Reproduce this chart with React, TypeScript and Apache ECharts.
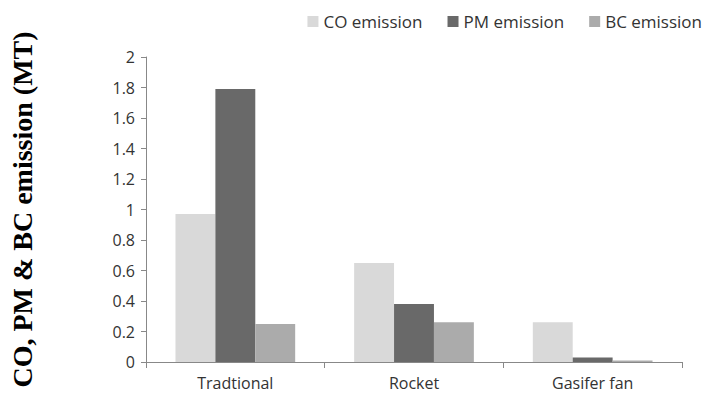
import React, { useEffect, useRef } from "react";
import * as echarts from "echarts";

const categories = ["Tradtional", "Rocket", "Gasifer fan"];
const seriesNames = ["CO emission", "PM emission", "BC emission"];
const coEmission = [0.97, 0.65, 0.26];
const pmEmission = [1.79, 0.38, 0.03];
const bcEmission = [0.25, 0.26, 0.01];

export default function App() {
  const ref = useRef<HTMLDivElement>(null);
  useEffect(() => {
    const chart = echarts.init(ref.current!, null, { renderer: "svg" });
    const font = "'Open Sans', 'Liberation Sans', sans-serif";
    const barCommon = { type: "bar", barGap: "0%", barCategoryGap: "33%" };
    chart.setOption({
      animation: false,
      backgroundColor: "#ffffff",
      legend: {
        top: 8,
        right: 1,
        itemWidth: 11,
        itemHeight: 11,
        itemGap: 25,
        icon: "rect",
        textStyle: { fontFamily: font, fontSize: 17, color: "#333333" },
        data: seriesNames,
      },
      grid: { left: 145, right: 26, top: 57, bottom: 36, containLabel: false },
      xAxis: {
        type: "category",
        data: categories,
        axisLine: { lineStyle: { color: "#888888" } },
        axisTick: { show: true, length: 6, lineStyle: { color: "#888888" } },
        axisLabel: { fontFamily: font, fontSize: 16, color: "#333333", margin: 13 },
      },
      yAxis: {
        type: "value",
        min: 0,
        max: 2,
        interval: 0.2,
        name: "CO, PM & BC emission (MT)",
        nameLocation: "middle",
        nameGap: 110,
        nameTextStyle: {
          fontFamily: "'Liberation Serif', serif",
          fontWeight: "bold",
          fontSize: 28,
          color: "#000000",
        },
        axisLine: { show: true, lineStyle: { color: "#888888" } },
        axisTick: { show: true, length: 5, lineStyle: { color: "#888888" } },
        splitLine: { show: false },
        axisLabel: {
          fontFamily: font,
          fontSize: 16,
          color: "#333333",
          margin: 11,
          formatter: (v: number) => String(Math.round(v * 10) / 10),
        },
      },
      series: [
        { ...barCommon, name: seriesNames[0], data: coEmission, itemStyle: { color: "#d9d9d9" } },
        { ...barCommon, name: seriesNames[1], data: pmEmission, itemStyle: { color: "#696969" } },
        { ...barCommon, name: seriesNames[2], data: bcEmission, itemStyle: { color: "#ababab" } },
      ],
    });
    return () => chart.dispose();
  }, []);
  return <div ref={ref} style={{ width: 708, height: 398, position: "absolute", left: 0, top: 0 }} />;
}
